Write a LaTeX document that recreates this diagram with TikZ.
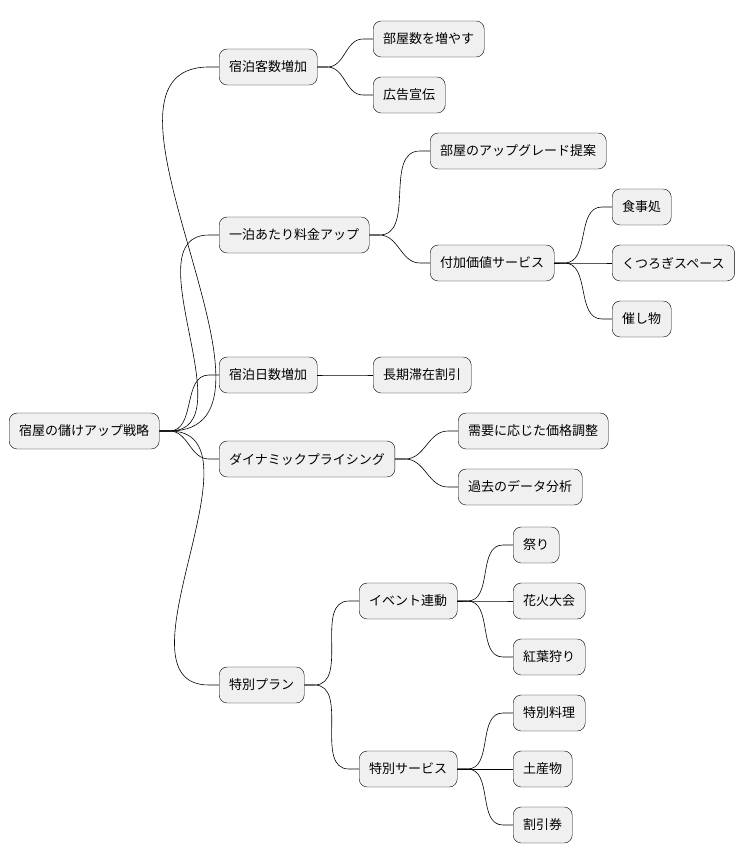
\documentclass[tikz,border=0pt]{standalone}
\usepackage{fontspec}
\setmainfont{Noto Sans CJK JP}
\begin{document}
\begin{tikzpicture}[x=1pt,y=-1pt,
  idea/.style={draw,rounded corners=8pt,fill=black!6,anchor=west,minimum height=36pt,inner xsep=10pt,font=\fontsize{13}{15}\selectfont},
  branch/.style={line width=0.6pt}]
\useasboundingbox (0,0) rectangle (754,865);
\node[idea] (root) at (9,431) {宿屋の儲けアップ戦略};
\node[idea] (guests) at (219,67) {宿泊客数増加};
\node[idea] (rooms) at (373,39) {部屋数を増やす};
\node[idea] (ads) at (373,95) {広告宣伝};
\node[idea] (price) at (219,235) {一泊あたり料金アップ};
\node[idea] (upgrade) at (430,151) {部屋のアップグレード提案};
\node[idea] (value) at (430,263) {付加価値サービス};
\node[idea] (meal) at (612,207) {食事処};
\node[idea] (relax) at (612,263) {くつろぎスペース};
\node[idea] (event) at (612,319) {催し物};
\node[idea] (nights) at (219,375) {宿泊日数増加};
\node[idea] (longstay) at (373,375) {長期滞在割引};
\node[idea] (dynamic) at (219,459) {ダイナミックプライシング};
\node[idea] (demand) at (458,431) {需要に応じた価格調整};
\node[idea] (history) at (458,487) {過去のデータ分析};
\node[idea] (plan) at (219,685) {特別プラン};
\node[idea] (linked) at (359,601) {イベント連動};
\node[idea] (festival) at (513,545) {祭り};
\node[idea] (fireworks) at (513,601) {花火大会};
\node[idea] (autumn) at (513,657) {紅葉狩り};
\node[idea] (service) at (359,769) {特別サービス};
\node[idea] (dish) at (513,713) {特別料理};
\node[idea] (souvenir) at (513,769) {土産物};
\node[idea] (coupon) at (513,825) {割引券};
% connectors
\foreach \a/\b in {root/guests,root/price,root/nights,root/dynamic,root/plan,
  guests/rooms,guests/ads,price/upgrade,price/value,value/meal,value/relax,value/event,
  nights/longstay,dynamic/demand,dynamic/history,plan/linked,plan/service,
  linked/festival,linked/fireworks,linked/autumn,service/dish,service/souvenir,service/coupon}
  \draw[branch] (\a.east) -- ++(10,0) to[out=0,in=180] ([xshift=-10]\b.west) -- (\b.west);
\end{tikzpicture}
\end{document}
